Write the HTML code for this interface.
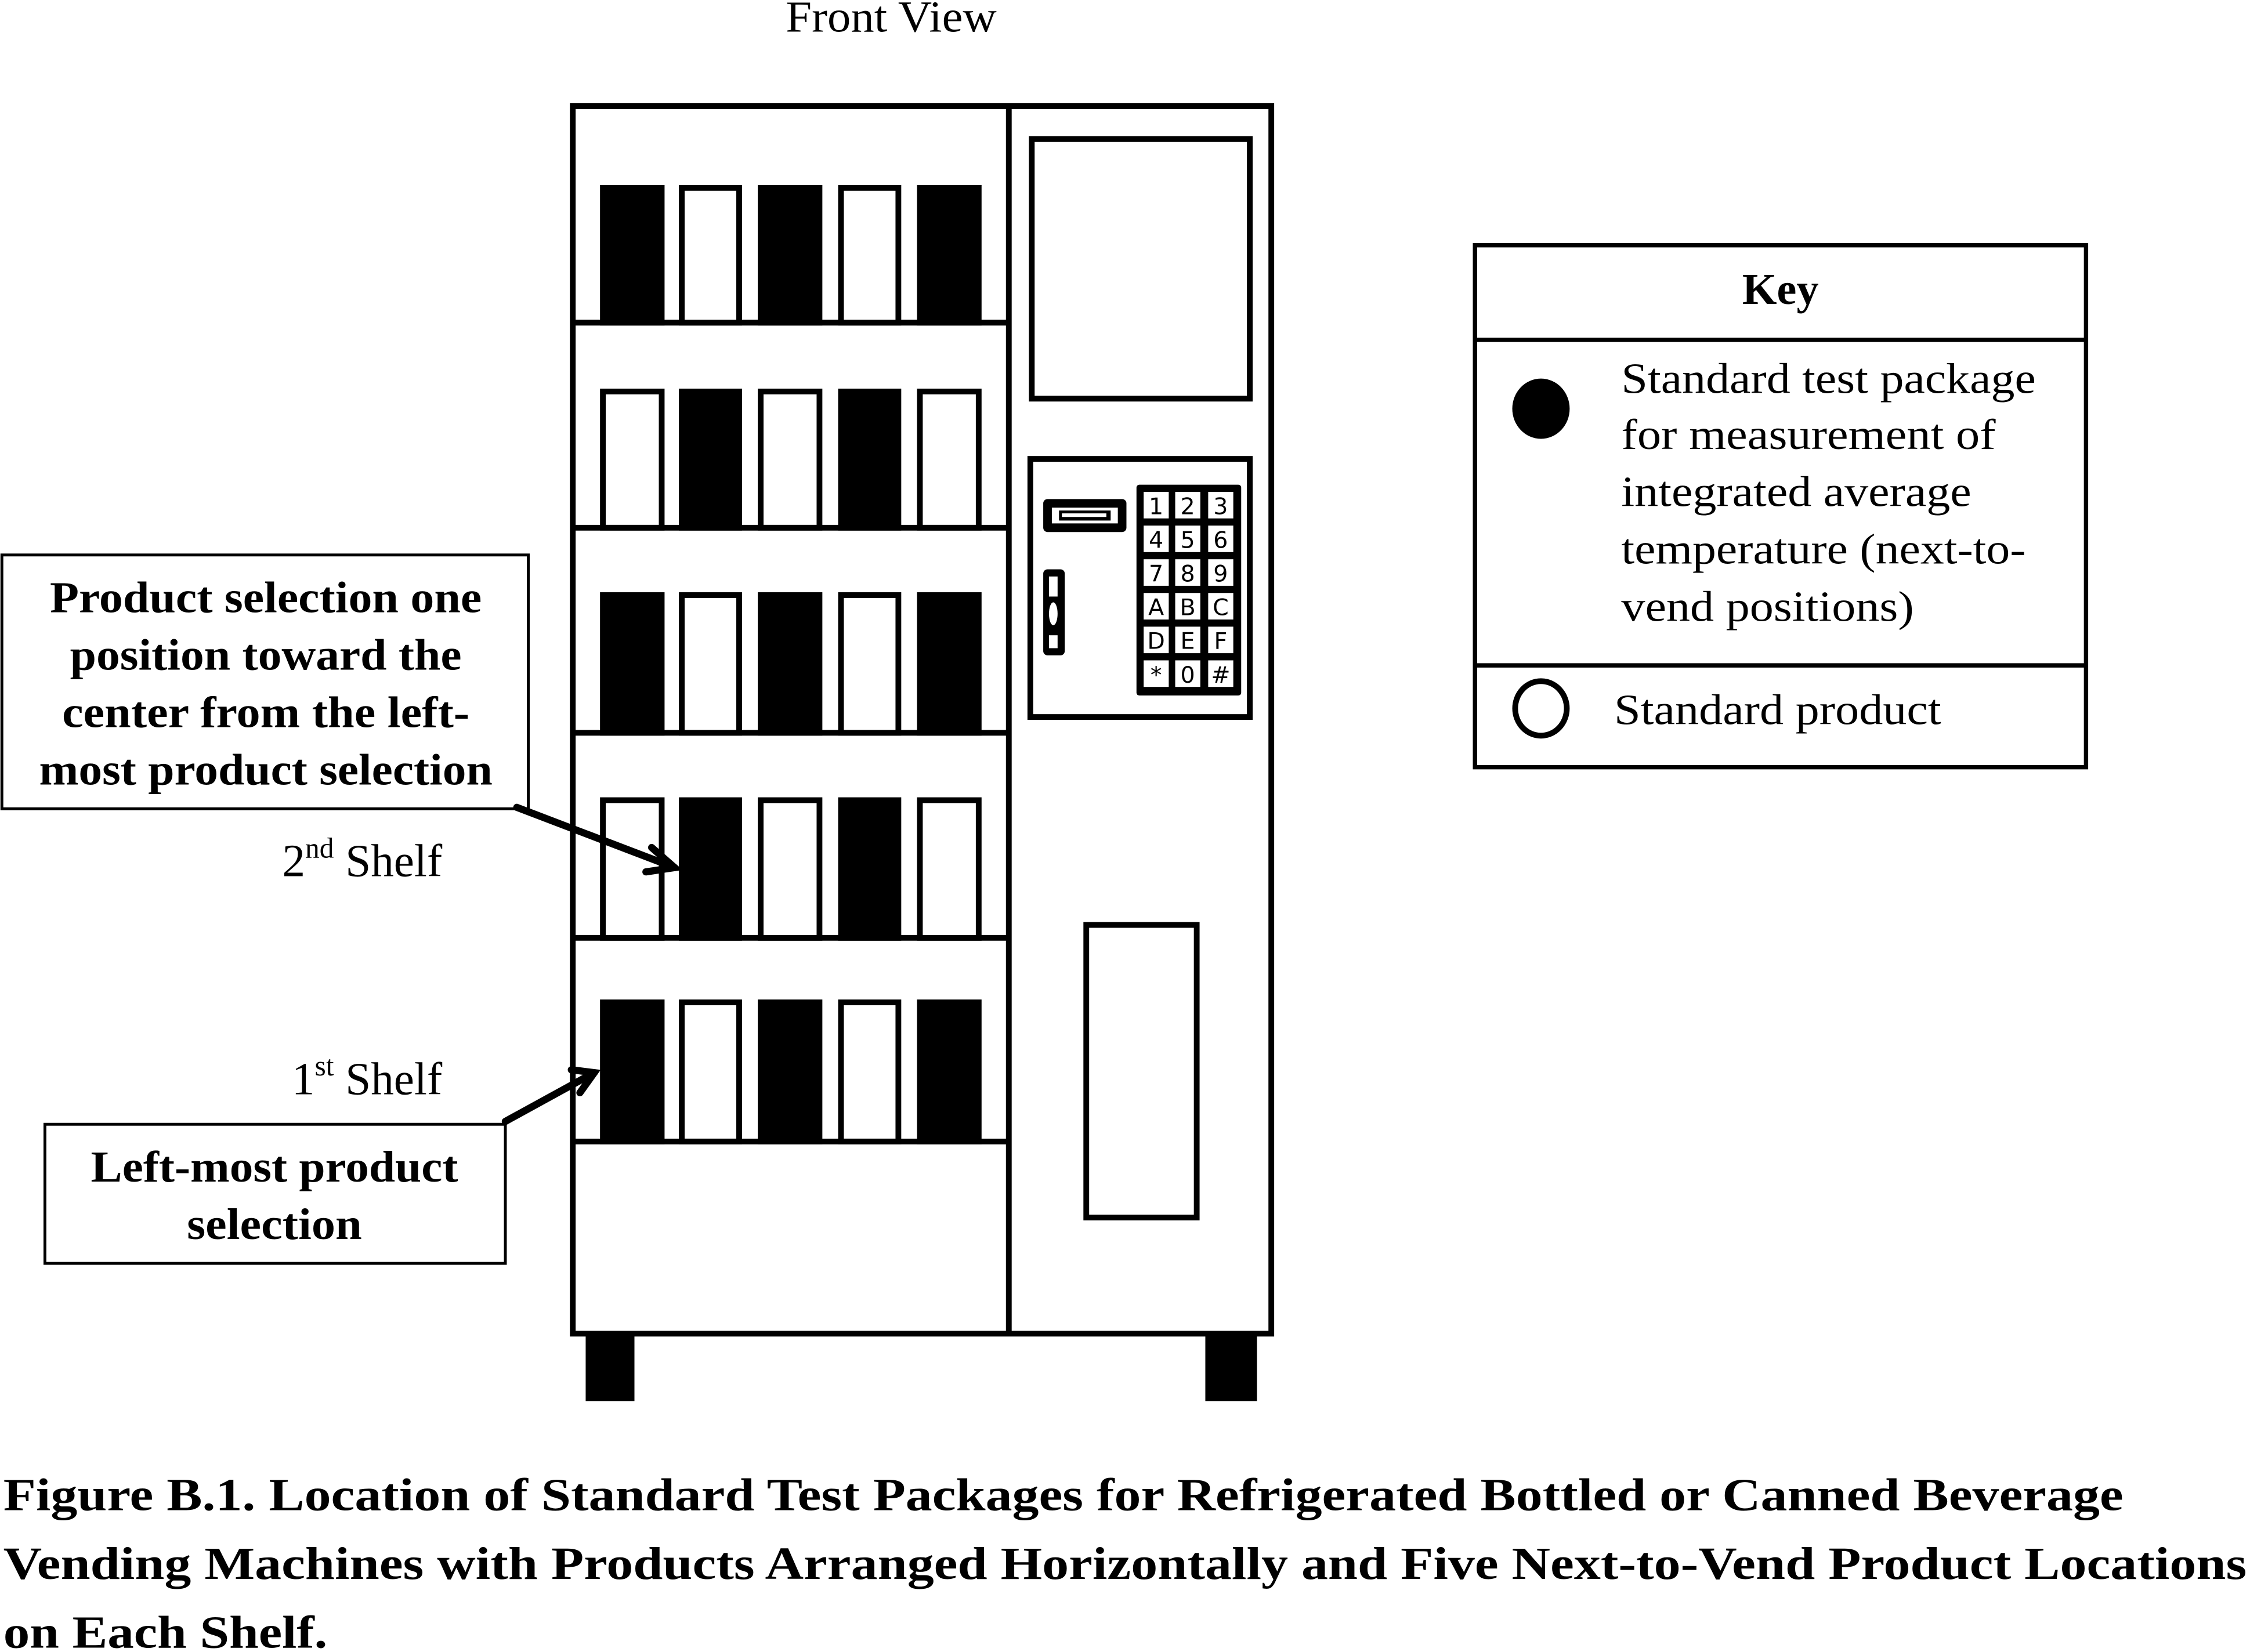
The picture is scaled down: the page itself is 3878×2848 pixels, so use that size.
<!DOCTYPE html>
<html><head><meta charset="utf-8"><style>
html,body{margin:0;padding:0;background:#fff;}
svg{display:block;}
text{font-family:"Liberation Serif",serif;fill:#000;}
text.k{font-family:"DejaVu Sans",sans-serif;}
</style></head><body>
<svg width="3878" height="2848" viewBox="0 0 1568 1152" xmlns="http://www.w3.org/2000/svg">
<rect width="1568" height="1152" fill="#fff"/>
<text x="621" y="22" font-size="31" text-anchor="middle" textLength="147" lengthAdjust="spacingAndGlyphs">Front View</text>
<rect x="408" y="928" width="34" height="49" fill="#000"/>
<rect x="840" y="928" width="36" height="49" fill="#000"/>
<rect x="399" y="74" width="487" height="856" fill="#fff" stroke="#000" stroke-width="4"/>
<line x1="703" y1="74" x2="703" y2="930" stroke="#000" stroke-width="4"/>
<g stroke="#000" stroke-width="4">
<line x1="399" y1="225" x2="703" y2="225"/>
<line x1="399" y1="368" x2="703" y2="368"/>
<line x1="399" y1="511" x2="703" y2="511"/>
<line x1="399" y1="654" x2="703" y2="654"/>
<line x1="399" y1="796" x2="703" y2="796"/>
</g>
<g stroke="#000" stroke-width="4">
<rect x="420" y="131" width="41" height="94" fill="#000"/>
<rect x="475" y="131" width="40" height="94" fill="#fff"/>
<rect x="530" y="131" width="41" height="94" fill="#000"/>
<rect x="586" y="131" width="40" height="94" fill="#fff"/>
<rect x="641" y="131" width="41" height="94" fill="#000"/>
<rect x="420" y="273" width="41" height="95" fill="#fff"/>
<rect x="475" y="273" width="40" height="95" fill="#000"/>
<rect x="530" y="273" width="41" height="95" fill="#fff"/>
<rect x="586" y="273" width="40" height="95" fill="#000"/>
<rect x="641" y="273" width="41" height="95" fill="#fff"/>
<rect x="420" y="415" width="41" height="96" fill="#000"/>
<rect x="475" y="415" width="40" height="96" fill="#fff"/>
<rect x="530" y="415" width="41" height="96" fill="#000"/>
<rect x="586" y="415" width="40" height="96" fill="#fff"/>
<rect x="641" y="415" width="41" height="96" fill="#000"/>
<rect x="420" y="558" width="41" height="96" fill="#fff"/>
<rect x="475" y="558" width="40" height="96" fill="#000"/>
<rect x="530" y="558" width="41" height="96" fill="#fff"/>
<rect x="586" y="558" width="40" height="96" fill="#000"/>
<rect x="641" y="558" width="41" height="96" fill="#fff"/>
<rect x="420" y="699" width="41" height="97" fill="#000"/>
<rect x="475" y="699" width="40" height="97" fill="#fff"/>
<rect x="530" y="699" width="41" height="97" fill="#000"/>
<rect x="586" y="699" width="40" height="97" fill="#fff"/>
<rect x="641" y="699" width="41" height="97" fill="#000"/>
</g>
<rect x="719" y="97" width="152" height="181" fill="#fff" stroke="#000" stroke-width="4"/>
<rect x="718" y="320" width="153" height="180" fill="#fff" stroke="#000" stroke-width="4"/>
<rect x="727" y="348" width="58" height="23" rx="3" fill="#000"/>
<rect x="733" y="354" width="46" height="11" fill="#fff"/>
<rect x="738" y="356" width="36" height="7" fill="#000"/>
<rect x="740" y="358" width="31" height="2.5" fill="#fff"/>
<rect x="727" y="397" width="15" height="60" rx="3" fill="#000"/>
<rect x="731" y="402" width="6" height="14" fill="#fff"/>
<ellipse cx="734" cy="428" rx="3" ry="8" fill="#fff"/>
<rect x="731" y="443" width="6" height="9" fill="#fff"/>
<rect x="792" y="338" width="73" height="147" rx="2" fill="#000"/>
<g fill="#fff">
<rect x="797" y="343" width="17.5" height="18.5"/><rect x="819" y="343" width="17.5" height="18.5"/><rect x="842" y="343" width="17.5" height="18.5"/>
<rect x="797" y="366.5" width="17.5" height="18.5"/><rect x="819" y="366.5" width="17.5" height="18.5"/><rect x="842" y="366.5" width="17.5" height="18.5"/>
<rect x="797" y="390" width="17.5" height="18.5"/><rect x="819" y="390" width="17.5" height="18.5"/><rect x="842" y="390" width="17.5" height="18.5"/>
<rect x="797" y="413.5" width="17.5" height="18.5"/><rect x="819" y="413.5" width="17.5" height="18.5"/><rect x="842" y="413.5" width="17.5" height="18.5"/>
<rect x="797" y="437" width="17.5" height="18.5"/><rect x="819" y="437" width="17.5" height="18.5"/><rect x="842" y="437" width="17.5" height="18.5"/>
<rect x="797" y="460.5" width="17.5" height="18.5"/><rect x="819" y="460.5" width="17.5" height="18.5"/><rect x="842" y="460.5" width="17.5" height="18.5"/>
</g>
<g font-size="16" text-anchor="middle">
<text class="k" x="805.7" y="358.5">1</text><text class="k" x="827.7" y="358.5">2</text><text class="k" x="850.7" y="358.5">3</text>
<text class="k" x="805.7" y="382">4</text><text class="k" x="827.7" y="382">5</text><text class="k" x="850.7" y="382">6</text>
<text class="k" x="805.7" y="405.5">7</text><text class="k" x="827.7" y="405.5">8</text><text class="k" x="850.7" y="405.5">9</text>
<text class="k" x="805.7" y="429">A</text><text class="k" x="827.7" y="429">B</text><text class="k" x="850.7" y="429">C</text>
<text class="k" x="805.7" y="452.5">D</text><text class="k" x="827.7" y="452.5">E</text><text class="k" x="850.7" y="452.5">F</text>
<text class="k" x="805.7" y="476">*</text><text class="k" x="827.7" y="476">0</text><text class="k" x="850.7" y="476">#</text>
</g>
<rect x="757" y="645" width="77" height="204" fill="#fff" stroke="#000" stroke-width="4"/>
<rect x="1" y="387" width="367" height="177" fill="#fff" stroke="#000" stroke-width="2"/>
<g font-size="31" font-weight="bold" text-anchor="middle">
<text x="185" y="427" textLength="301" lengthAdjust="spacingAndGlyphs">Product selection one</text>
<text x="185" y="467" textLength="273" lengthAdjust="spacingAndGlyphs">position toward the</text>
<text x="185" y="507" textLength="284" lengthAdjust="spacingAndGlyphs">center from the left-</text>
<text x="185" y="547" textLength="316" lengthAdjust="spacingAndGlyphs">most product selection</text>
</g>
<text x="308" y="611" font-size="32" text-anchor="end">2<tspan font-size="20" dy="-13">nd</tspan><tspan dy="13"> Shelf</tspan></text>
<text x="308" y="763" font-size="32" text-anchor="end">1<tspan font-size="20" dy="-13">st</tspan><tspan dy="13"> Shelf</tspan></text>
<g stroke="#000" stroke-width="5" fill="none" stroke-linecap="round">
<line x1="360" y1="563" x2="470" y2="605"/>
<polyline points="454,591 470,605 450,608"/>
<line x1="352" y1="782" x2="414" y2="748"/>
<polyline points="398,746 414,748 404,762"/>
</g>
<rect x="31" y="784" width="321" height="97" fill="#fff" stroke="#000" stroke-width="2"/>
<g font-size="31" font-weight="bold" text-anchor="middle">
<text x="191" y="824" textLength="256" lengthAdjust="spacingAndGlyphs">Left-most product</text>
<text x="191" y="864" textLength="122" lengthAdjust="spacingAndGlyphs">selection</text>
</g>
<rect x="1028" y="171" width="426" height="364" fill="#fff" stroke="#000" stroke-width="3"/>
<line x1="1028" y1="237" x2="1454" y2="237" stroke="#000" stroke-width="3"/>
<line x1="1028" y1="464" x2="1454" y2="464" stroke="#000" stroke-width="3"/>
<text x="1241" y="212" font-size="31" font-weight="bold" text-anchor="middle">Key</text>
<ellipse cx="1074" cy="285" rx="20" ry="21" fill="#000"/>
<ellipse cx="1074" cy="494" rx="18" ry="19" fill="none" stroke="#000" stroke-width="4"/>
<g font-size="30">
<text x="1130" y="274" textLength="289" lengthAdjust="spacingAndGlyphs">Standard test package</text>
<text x="1130" y="313" textLength="261" lengthAdjust="spacingAndGlyphs">for measurement of</text>
<text x="1130" y="353" textLength="244" lengthAdjust="spacingAndGlyphs">integrated average</text>
<text x="1130" y="393" textLength="282" lengthAdjust="spacingAndGlyphs">temperature (next-to-</text>
<text x="1130" y="433" textLength="204" lengthAdjust="spacingAndGlyphs">vend positions)</text>
<text x="1125" y="505" textLength="228" lengthAdjust="spacingAndGlyphs">Standard product</text>
</g>
<g font-size="32" font-weight="bold">
<text x="2" y="1053" textLength="1478" lengthAdjust="spacingAndGlyphs">Figure B.1. Location of Standard Test Packages for Refrigerated Bottled or Canned Beverage</text>
<text x="2" y="1101" textLength="1564" lengthAdjust="spacingAndGlyphs">Vending Machines with Products Arranged Horizontally and Five Next-to-Vend Product Locations</text>
<text x="2" y="1149" textLength="226" lengthAdjust="spacingAndGlyphs">on Each Shelf.</text>
</g>
</svg>
</body></html>
